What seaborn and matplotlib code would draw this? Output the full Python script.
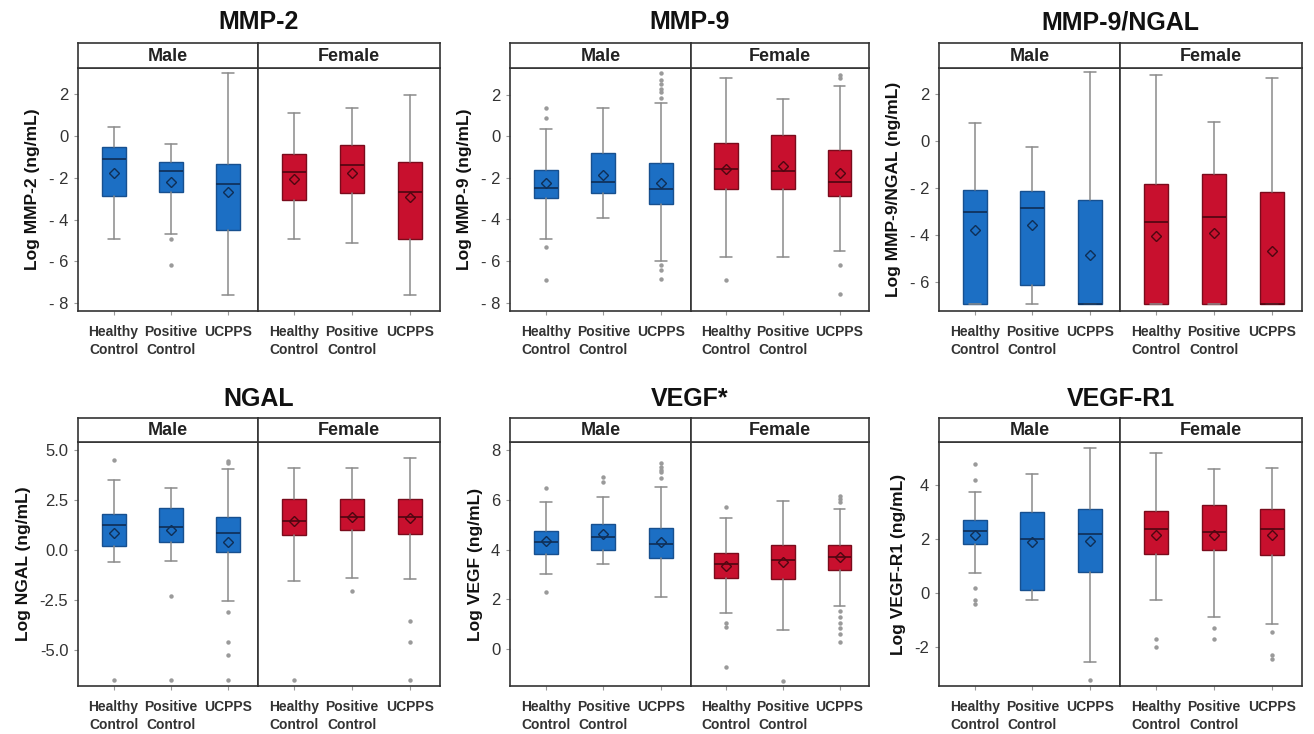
import pandas as pd
import seaborn as sns
import matplotlib.pyplot as plt

# groups shown in every facet, order: Male HC, PC, UCPPS, Female HC, PC, UCPPS
groups = ["Healthy Control", "Positive Control", "UCPPS"]
group_labels = ["Healthy\nControl", "Positive\nControl", "UCPPS"]
sexes = ["Male", "Female"]

# MMP-2
mmp2_whishi = [0.45, -0.38, 3.04, 1.12, 1.35, 1.95]
mmp2_q3 = [-0.52, -1.25, -1.33, -0.84, -0.41, -1.25]
mmp2_med = [-1.11, -1.65, -2.29, -1.70, -1.37, -2.69]
mmp2_q1 = [-2.86, -2.70, -4.49, -3.04, -2.74, -4.94]
mmp2_whislo = [-4.94, -4.70, -7.59, -4.94, -5.11, -7.59]
mmp2_mean = [-1.78, -2.18, -2.69, -2.07, -1.78, -2.90]
mmp2_fliers = [[], [-4.94, -6.2], [], [], [], []]

# MMP-9
mmp9_whishi = [0.37, 1.36, 1.62, 2.78, 1.78, 2.41]
mmp9_q3 = [-1.62, -0.82, -1.29, -0.31, 0.07, -0.68]
mmp9_med = [-2.47, -2.21, -2.55, -1.59, -1.67, -2.18]
mmp9_q1 = [-2.99, -2.74, -3.25, -2.53, -2.53, -2.85]
mmp9_whislo = [-4.94, -3.95, -5.99, -5.80, -5.80, -5.51]
mmp9_mean = [-2.26, -1.84, -2.23, -1.59, -1.43, -1.75]
mmp9_fliers = [[1.36, 0.90, -5.30, -6.90], [],
               [3.04, 2.69, 2.53, 2.29, 2.13, 1.84, -6.21, -6.44, -6.88],
               [-6.90], [], [2.93, 2.81, -6.20, -7.59]]

# MMP-9/NGAL
ratio_whishi = [0.78, -0.24, 2.91, 2.80, 0.82, 2.67]
ratio_q3 = [-2.09, -2.15, -2.53, -1.81, -1.41, -2.19]
ratio_med = [-3.02, -2.84, -6.93, -3.45, -3.22, -6.93]
ratio_q1 = [-6.93, -6.13, -6.93, -6.93, -6.93, -6.93]
ratio_whislo = [-6.93, -6.92, -6.93, -6.93, -6.93, -6.93]
ratio_mean = [-3.80, -3.59, -4.84, -4.03, -3.91, -4.69]
ratio_fliers = [[], [], [], [], [], []]

# NGAL
ngal_whishi = [3.52, 3.10, 4.07, 4.12, 4.12, 4.62]
ngal_q3 = [1.82, 2.13, 1.68, 2.58, 2.58, 2.58]
ngal_med = [1.25, 1.15, 0.85, 1.48, 1.67, 1.67]
ngal_q1 = [0.23, 0.43, -0.07, 0.78, 1.00, 0.83]
ngal_whislo = [-0.60, -0.53, -2.52, -1.52, -1.38, -1.42]
ngal_mean = [0.85, 1.02, 0.40, 1.48, 1.68, 1.62]
ngal_fliers = [[4.52, -6.5], [-2.3, -6.5], [4.47, 4.35, -3.1, -4.6, -5.27, -6.5],
               [-6.5], [-2.03], [-3.52, -4.62, -6.5]]

# VEGF
vegf_whishi = [5.92, 6.11, 6.52, 5.28, 5.95, 5.65]
vegf_q3 = [4.75, 5.03, 4.85, 3.85, 4.20, 4.19]
vegf_med = [4.30, 4.52, 4.24, 3.42, 3.58, 3.70]
vegf_q1 = [3.83, 4.00, 3.66, 2.86, 2.80, 3.18]
vegf_whislo = [3.00, 3.43, 2.08, 1.43, 0.74, 1.71]
vegf_mean = [4.36, 4.63, 4.29, 3.35, 3.49, 3.70]
vegf_fliers = [[6.5, 2.27], [6.92, 6.72], [7.49, 7.33, 7.22, 7.13, 6.88],
               [5.70, 1.02, 0.89, -0.73], [-1.32],
               [6.18, 6.05, 5.92, 1.51, 1.27, 1.04, 0.82, 0.59, 0.26]]

# VEGF-R1
vegfr1_whishi = [3.72, 4.37, 5.34, 5.18, 4.56, 4.62]
vegfr1_q3 = [2.70, 3.00, 3.11, 3.02, 3.23, 3.11]
vegfr1_med = [2.29, 1.98, 2.19, 2.34, 2.24, 2.34]
vegfr1_q1 = [1.82, 0.11, 0.76, 1.45, 1.57, 1.38]
vegfr1_whislo = [0.75, -0.27, -2.57, -0.27, -0.90, -1.16]
vegfr1_mean = [2.14, 1.88, 1.93, 2.14, 2.14, 2.12]
vegfr1_fliers = [[4.74, 4.15, 0.17, -0.27, -0.42], [], [-3.22],
                 [-1.72, -1.99], [-1.29, -1.72], [-1.46, -2.30, -2.44]]

panels = [
    ("MMP-2", "Log MMP-2 (ng/mL)", mmp2_whishi, mmp2_q3, mmp2_med, mmp2_q1, mmp2_whislo, mmp2_mean, mmp2_fliers,
     (-8.38, 3.26), [2, 0, -2, -4, -6, -8], ["2", "0", "- 2", "- 4", "- 6", "- 8"]),
    ("MMP-9", "Log MMP-9 (ng/mL)", mmp9_whishi, mmp9_q3, mmp9_med, mmp9_q1, mmp9_whislo, mmp9_mean, mmp9_fliers,
     (-8.4, 3.28), [2, 0, -2, -4, -6, -8], ["2", "0", "- 2", "- 4", "- 6", "- 8"]),
    ("MMP-9/NGAL", "Log MMP-9/NGAL (ng/mL)", ratio_whishi, ratio_q3, ratio_med, ratio_q1, ratio_whislo, ratio_mean,
     ratio_fliers, (-7.23, 3.10), [2, 0, -2, -4, -6], ["2", "0", "- 2", "- 4", "- 6"]),
    ("NGAL", "Log NGAL (ng/mL)", ngal_whishi, ngal_q3, ngal_med, ngal_q1, ngal_whislo, ngal_mean, ngal_fliers,
     (-6.8, 5.42), [5.0, 2.5, 0.0, -2.5, -5.0], ["5.0", "2.5", "0.0", "-2.5", "-5.0"]),
    ("VEGF*", "Log VEGF (ng/mL)", vegf_whishi, vegf_q3, vegf_med, vegf_q1, vegf_whislo, vegf_mean, vegf_fliers,
     (-1.51, 8.34), [8, 6, 4, 2, 0], ["8", "6", "4", "2", "0"]),
    ("VEGF-R1", "Log VEGF-R1 (ng/mL)", vegfr1_whishi, vegfr1_q3, vegfr1_med, vegfr1_q1, vegfr1_whislo, vegfr1_mean,
     vegfr1_fliers, (-3.44, 5.57), [4, 2, 0, -2], ["4", "2", "0", "-2"]),
]

fill = {"Male": "#1c6fc4", "Female": "#c8102e"}
edge = {"Male": "#17508f", "Female": "#7a0b1c"}
dark = {"Male": "#0f2e55", "Female": "#4d0610"}

sns.set_theme(style="ticks")
plt.rcParams['font.family'] = ['Liberation Sans', 'DejaVu Sans']

W, H = 1314, 734
fig = plt.figure(figsize=(W / 100, H / 100), dpi=100)


def add_px(left, top, right, bottom):
    return fig.add_axes([left / W, 1 - bottom / H, (right - left) / W, (bottom - top) / H])


cols = [(78, 258, 440), (510, 691, 869), (939, 1120, 1302)]
rows = [(43, 68, 311, 22), (418, 442, 686, 399)]
frame = "#333333"

for i, (title, ylabel, whishi, q3, med, q1, whislo, mean, fliers, ylim, yticks, ylabels) in enumerate(panels):
    x0, xs, x1 = cols[i % 3]
    st, sb, ab, ty = rows[i // 3]
    fig.text((x0 + x1) / 2 / W, 1 - ty / H, title, ha="center", va="center",
             fontsize=18, fontweight="bold", color="#111111")
    for s, sex in enumerate(sexes):
        left, right = (x0, xs) if s == 0 else (xs, x1)
        ax = add_px(left, sb, right, ab)
        strip = add_px(left, st, right, sb)

        stats = []
        for j in range(3):
            k = s * 3 + j
            stats.append(dict(med=med[k], q1=q1[k], q3=q3[k], whislo=whislo[k], whishi=whishi[k],
                              mean=mean[k], fliers=[]))
        ax.bxp(stats, positions=[0, 1, 2], widths=0.42, capwidths=0.21, showmeans=True,
               showfliers=False, patch_artist=True,
               boxprops=dict(facecolor=fill[sex], edgecolor=edge[sex], linewidth=1.0),
               medianprops=dict(color=dark[sex], linewidth=1.2),
               whiskerprops=dict(color="#8a8a8a", linewidth=1.1),
               capprops=dict(color="#8a8a8a", linewidth=1.1),
               meanprops=dict(marker="D", markerfacecolor="none", markeredgecolor=dark[sex],
                              markersize=5, markeredgewidth=1.0))

        rows_fl = [(groups[j], v) for j in range(3) for v in fliers[s * 3 + j]]
        if rows_fl:
            fl = pd.DataFrame(rows_fl, columns=["group", "value"])
            sns.stripplot(data=fl, x="group", y="value", order=groups, jitter=False,
                          color="#9a9a9a", size=3.2, linewidth=0, ax=ax, zorder=3)

        ax.set_xlim(-0.62, 2.52)
        ax.set_ylim(*ylim)
        ax.set_xticks([0, 1, 2])
        ax.set_xticklabels(group_labels, fontsize=10, fontweight="bold", color="#333333", linespacing=1.35)
        ax.set_xlabel("")
        ax.set_yticks(yticks)
        if s == 0:
            ax.set_yticklabels(ylabels, fontsize=12, color="#333333")
            ax.set_ylabel(ylabel, fontsize=12.5, fontweight="bold", color="#111111", labelpad=6)
            ax.tick_params(axis="y", length=3, width=0.8, color="#999999", pad=4)
        else:
            ax.set_yticklabels([])
            ax.set_ylabel("")
            ax.tick_params(axis="y", length=0)
        ax.tick_params(axis="x", length=3, width=0.8, color="#999999", pad=7)
        for sp in ax.spines.values():
            sp.set_visible(True)
            sp.set_color(frame)
            sp.set_linewidth(1.2)

        strip.set_xticks([])
        strip.set_yticks([])
        for sp in strip.spines.values():
            sp.set_visible(True)
            sp.set_color(frame)
            sp.set_linewidth(1.2)
        strip.text(0.5, 0.47, sex, ha="center", va="center", fontsize=13, fontweight="bold",
                   color="#222222", transform=strip.transAxes)

fig.savefig("out.png", dpi=100)
